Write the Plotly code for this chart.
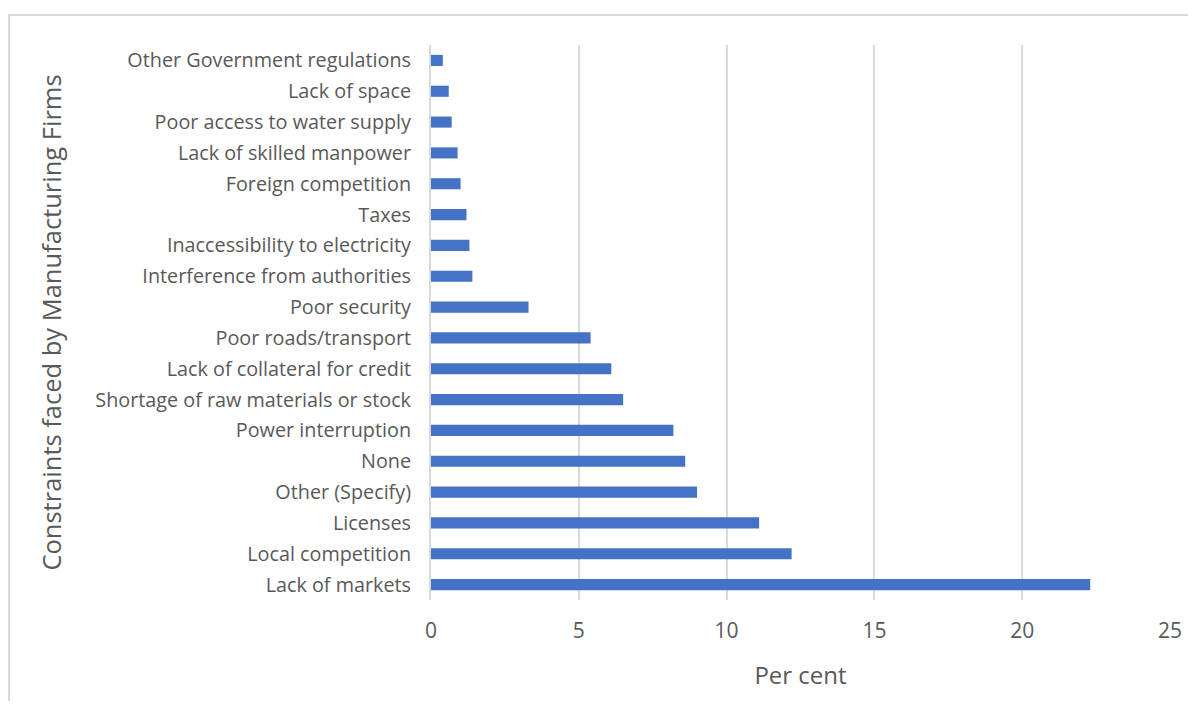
import plotly.graph_objects as go

constraints = [
    "Lack of markets",
    "Local competition",
    "Licenses",
    "Other (Specify)",
    "None",
    "Power interruption",
    "Shortage of raw materials or stock",
    "Lack of collateral for credit",
    "Poor roads/transport",
    "Poor security",
    "Interference from authorities",
    "Inaccessibility to electricity",
    "Taxes",
    "Foreign competition",
    "Lack of skilled manpower",
    "Poor access to water supply",
    "Lack of space",
    "Other Government regulations",
]
per_cent = [22.3, 12.2, 11.1, 9.0, 8.6, 8.2, 6.5, 6.1, 5.4, 3.3,
            1.4, 1.3, 1.2, 1.0, 0.9, 0.7, 0.6, 0.4]

font_family = "'Open Sans', 'Noto Sans', sans-serif"
grey = "#595959"

# the page body has an 8px margin, so the figure is sized to fit inside it
fig_w, fig_h = 1180, 693
ml, mr, mt, mb = 423, 18, 37, 101
plot_w = fig_w - ml - mr
plot_h = fig_h - mt - mb

fig = go.Figure()
fig.add_trace(
    go.Bar(
        x=per_cent,
        y=constraints,
        orientation="h",
        width=0.36,
        marker=dict(color="#4472C4", line=dict(width=0)),
        hoverinfo="x+y",
    )
)

fig.update_layout(
    width=fig_w,
    height=fig_h,
    margin=dict(l=ml, r=mr, t=mt, b=mb, autoexpand=False),
    paper_bgcolor="white",
    plot_bgcolor="white",
    showlegend=False,
    font=dict(family=font_family, color=grey, size=18),
)
fig.update_xaxes(
    range=[0, 25],
    dtick=5,
    showgrid=True,
    gridcolor="#d9d9d9",
    gridwidth=2,
    zeroline=False,
    showline=False,
    ticks="",
    tickfont=dict(size=21, color=grey),
    ticklabelstandoff=16,
    title=dict(text="Per cent", font=dict(size=24, color=grey), standoff=24),
)
fig.update_yaxes(
    categoryorder="array",
    categoryarray=constraints,
    showgrid=False,
    showline=True,
    linecolor="#d9d9d9",
    linewidth=2,
    ticks="",
    ticklabelstandoff=14,
    tickfont=dict(size=19.8, color=grey),
    title=dict(
        text="Constraints faced by Manufacturing Firms",
        font=dict(size=25.5, color=grey),
        standoff=26,
    ),
)

# chart frame (top and left edges visible, right and bottom run off the page)
fig.add_shape(
    type="rect", xref="paper", yref="paper",
    x0=(1 - ml) / plot_w, x1=(fig_w + 20 - ml) / plot_w,
    y0=-(mb + 20) / plot_h, y1=(plot_h + mt - 7) / plot_h,
    line=dict(color="#d9d9d9", width=2), layer="below",
)

fig.write_html("out.html")
